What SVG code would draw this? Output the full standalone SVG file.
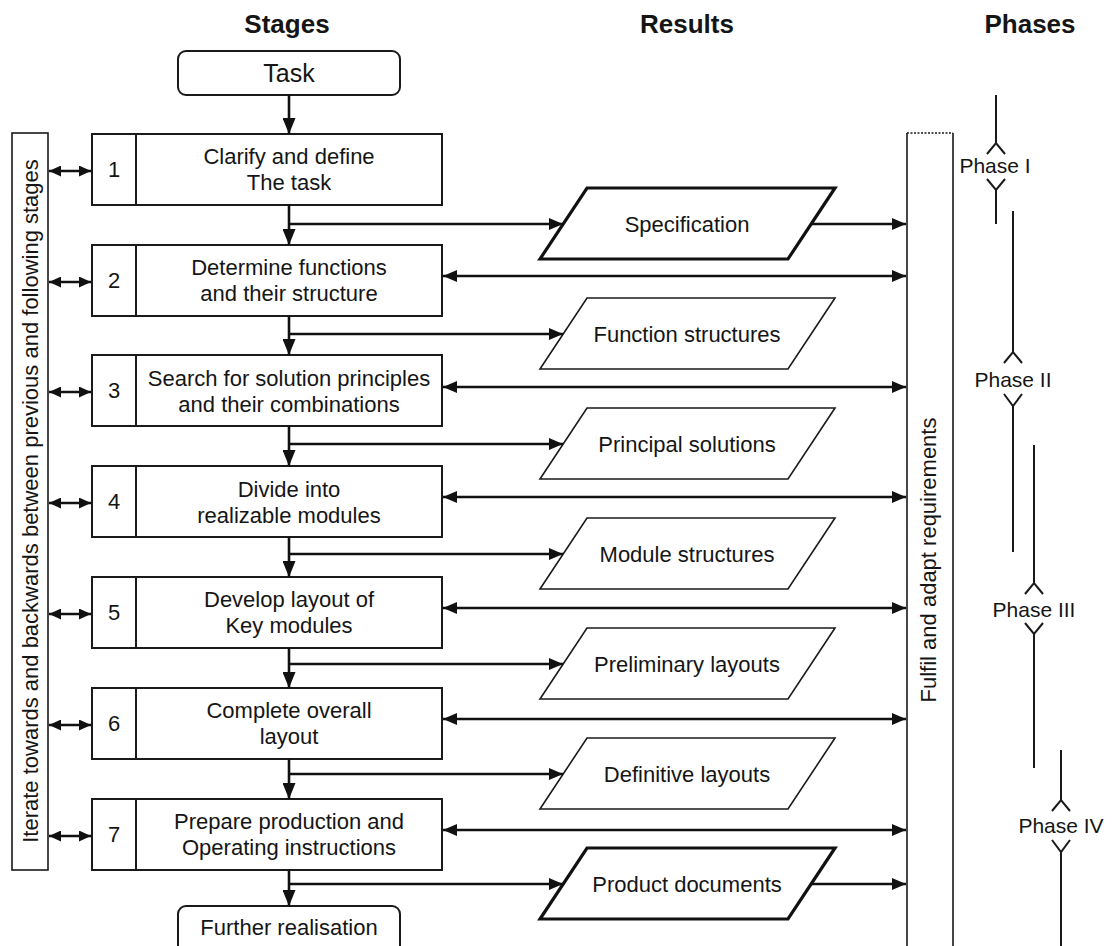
<svg xmlns="http://www.w3.org/2000/svg" width="1116" height="946" viewBox="0 0 1116 946">
<style>
text{font-family:"Liberation Sans",Arial,sans-serif;fill:#151515}
.hd{font-size:26px;font-weight:bold;text-anchor:middle}
.st{font-size:22px;text-anchor:middle}
.ph{font-size:21px;text-anchor:middle}
.box{fill:#fff;stroke:#1a1a1a;stroke-width:2}
.pthin{fill:#fff;stroke:#1a1a1a;stroke-width:1.6}
.pthick{fill:#fff;stroke:#111;stroke-width:3.2}
.ln{fill:none;stroke:#111;stroke-width:2.6}
.pl{fill:none;stroke:#1a1a1a;stroke-width:2}
</style>
<defs>
<marker id="ah" viewBox="0 0 14 12" refX="14" refY="6" markerWidth="14" markerHeight="12" markerUnits="userSpaceOnUse" orient="auto-start-reverse"><path d="M0,0 L14,6 L0,12 z" fill="#111"/></marker>
<marker id="as" viewBox="0 0 12 11" refX="12" refY="5.5" markerWidth="12" markerHeight="11" markerUnits="userSpaceOnUse" orient="auto-start-reverse"><path d="M0,0 L12,5.5 L0,11 z" fill="#111"/></marker>
<marker id="av" viewBox="0 0 16 13" refX="16" refY="6.5" markerWidth="16" markerHeight="13" markerUnits="userSpaceOnUse" orient="auto"><path d="M0,0 L16,6.5 L0,13 z" fill="#111"/></marker>
</defs>
<rect width="1116" height="946" fill="#fff"/>

<g id="headers">
<text class="hd" x="287" y="33">Stages</text>
<text class="hd" x="687" y="33">Results</text>
<text class="hd" x="1030" y="33">Phases</text>
</g>

<g id="task"><rect class="box" x="178" y="51" width="222" height="44" rx="8"/><text x="289" y="82" style="font-size:25px;text-anchor:middle">Task</text></g>
<g id="further"><rect class="box" x="178" y="906" width="222" height="50" rx="8"/><text class="st" x="289" y="935">Further realisation</text></g>

<g id="iterate"><rect x="12" y="133" width="36" height="737" fill="#fff" stroke="#1a1a1a" stroke-width="1.6"/><text class="st" transform="translate(38,501) rotate(-90)" x="0" y="0">Iterate towards and backwards between previous and following stages</text></g>

<g id="requirements"><path d="M907,133 V950 M953,133 V950" fill="none" stroke="#1a1a1a" stroke-width="1.6"/><path d="M907,133 H953" stroke="#1a1a1a" stroke-width="1.6" stroke-dasharray="2,1.5"/><text class="st" transform="translate(936,560) rotate(-90)" x="0" y="0">Fulfil and adapt requirements</text></g>

<g id="stage1"><rect class="box" x="92" y="134" width="350" height="71"/><line class="pl" x1="136" y1="134" x2="136" y2="205"/><text class="st" x="114" y="177">1</text><text class="st" x="289" y="164">Clarify and define</text><text class="st" x="289" y="190">The task</text></g>
<g id="stage2"><rect class="box" x="92" y="245" width="350" height="71"/><line class="pl" x1="136" y1="245" x2="136" y2="316"/><text class="st" x="114" y="288">2</text><text class="st" x="289" y="275">Determine functions</text><text class="st" x="289" y="301">and their structure</text></g>
<g id="stage3"><rect class="box" x="92" y="355" width="350" height="71"/><line class="pl" x1="136" y1="355" x2="136" y2="426"/><text class="st" x="114" y="398">3</text><text class="st" x="289" y="386">Search for solution principles</text><text class="st" x="289" y="412">and their combinations</text></g>
<g id="stage4"><rect class="box" x="92" y="466" width="350" height="71"/><line class="pl" x1="136" y1="466" x2="136" y2="537"/><text class="st" x="114" y="509">4</text><text class="st" x="289" y="497">Divide into</text><text class="st" x="289" y="523">realizable modules</text></g>
<g id="stage5"><rect class="box" x="92" y="577" width="350" height="71"/><line class="pl" x1="136" y1="577" x2="136" y2="648"/><text class="st" x="114" y="620">5</text><text class="st" x="289" y="607">Develop layout of</text><text class="st" x="289" y="633">Key modules</text></g>
<g id="stage6"><rect class="box" x="92" y="688" width="350" height="71"/><line class="pl" x1="136" y1="688" x2="136" y2="759"/><text class="st" x="114" y="731">6</text><text class="st" x="289" y="718">Complete overall</text><text class="st" x="289" y="744">layout</text></g>
<g id="stage7"><rect class="box" x="92" y="799" width="350" height="71"/><line class="pl" x1="136" y1="799" x2="136" y2="870"/><text class="st" x="114" y="842">7</text><text class="st" x="289" y="829">Prepare production and</text><text class="st" x="289" y="855">Operating instructions</text></g>

<g id="result1"><polygon class="pthick" points="587,188 835,188 788,259 540,259"/><text class="st" x="687" y="232">Specification</text></g>
<g id="result2"><polygon class="pthin" points="587,298 835,298 788,369 540,369"/><text class="st" x="687" y="342">Function structures</text></g>
<g id="result3"><polygon class="pthin" points="587,408 835,408 788,479 540,479"/><text class="st" x="687" y="452">Principal solutions</text></g>
<g id="result4"><polygon class="pthin" points="587,518 835,518 788,589 540,589"/><text class="st" x="687" y="562">Module structures</text></g>
<g id="result5"><polygon class="pthin" points="587,628 835,628 788,699 540,699"/><text class="st" x="687" y="672">Preliminary layouts</text></g>
<g id="result6"><polygon class="pthin" points="587,738 835,738 788,809 540,809"/><text class="st" x="687" y="782">Definitive layouts</text></g>
<g id="result7"><polygon class="pthick" points="587,848 835,848 788,919 540,919"/><text class="st" x="687" y="892">Product documents</text></g>

<g id="phases">
<path class="pl" d="M996,95 V143 M996,190 V224 M1013,211 V352 M1013,406 V552 M1034,445 V583 M1034,634 V768 M1061,750 V800 M1061,852 V950"/>
<path class="pl" d="M987,154 L996,143 L1005,154 M987,179 L996,190 L1005,179"/>
<path class="pl" d="M1004,363 L1013,352 L1022,363 M1004,394 L1013,406 L1022,394"/>
<path class="pl" d="M1025,594 L1034,583 L1043,594 M1025,623 L1034,634 L1043,623"/>
<path class="pl" d="M1052,811 L1061,800 L1070,811 M1052,840 L1061,852 L1070,840"/>
<text class="ph" x="995" y="173">Phase I</text>
<text class="ph" x="1013" y="387">Phase II</text>
<text class="ph" x="1034" y="617">Phase III</text>
<text class="ph" x="1061" y="833">Phase IV</text>
</g>

<g id="connectors">
<line class="ln" x1="289" y1="95" x2="289" y2="134" marker-end="url(#av)"/>
<line class="ln" x1="289" y1="205" x2="289" y2="245" marker-end="url(#av)"/>
<line class="ln" x1="289" y1="316" x2="289" y2="355" marker-end="url(#av)"/>
<line class="ln" x1="289" y1="426" x2="289" y2="466" marker-end="url(#av)"/>
<line class="ln" x1="289" y1="537" x2="289" y2="577" marker-end="url(#av)"/>
<line class="ln" x1="289" y1="648" x2="289" y2="688" marker-end="url(#av)"/>
<line class="ln" x1="289" y1="759" x2="289" y2="799" marker-end="url(#av)"/>
<line class="ln" x1="289" y1="870" x2="289" y2="906" marker-end="url(#av)"/>

<line class="ln" x1="289" y1="224" x2="563" y2="224" marker-end="url(#ah)"/>
<line class="ln" x1="289" y1="334" x2="563" y2="334" marker-end="url(#ah)"/>
<line class="ln" x1="289" y1="444" x2="563" y2="444" marker-end="url(#ah)"/>
<line class="ln" x1="289" y1="554" x2="563" y2="554" marker-end="url(#ah)"/>
<line class="ln" x1="289" y1="664" x2="563" y2="664" marker-end="url(#ah)"/>
<line class="ln" x1="289" y1="774" x2="563" y2="774" marker-end="url(#ah)"/>
<line class="ln" x1="289" y1="884" x2="563" y2="884" marker-end="url(#ah)"/>

<line class="ln" x1="812" y1="224" x2="906" y2="224" marker-end="url(#ah)"/>
<line class="ln" x1="812" y1="884" x2="906" y2="884" marker-end="url(#ah)"/>

<line class="ln" x1="443" y1="276" x2="906" y2="276" marker-start="url(#ah)" marker-end="url(#ah)"/>
<line class="ln" x1="443" y1="387" x2="906" y2="387" marker-start="url(#ah)" marker-end="url(#ah)"/>
<line class="ln" x1="443" y1="497" x2="906" y2="497" marker-start="url(#ah)" marker-end="url(#ah)"/>
<line class="ln" x1="443" y1="608" x2="906" y2="608" marker-start="url(#ah)" marker-end="url(#ah)"/>
<line class="ln" x1="443" y1="719" x2="906" y2="719" marker-start="url(#ah)" marker-end="url(#ah)"/>
<line class="ln" x1="443" y1="830" x2="906" y2="830" marker-start="url(#ah)" marker-end="url(#ah)"/>

<line class="ln" x1="49" y1="171" x2="91" y2="171" marker-start="url(#as)" marker-end="url(#as)"/>
<line class="ln" x1="49" y1="282" x2="91" y2="282" marker-start="url(#as)" marker-end="url(#as)"/>
<line class="ln" x1="49" y1="392" x2="91" y2="392" marker-start="url(#as)" marker-end="url(#as)"/>
<line class="ln" x1="49" y1="503" x2="91" y2="503" marker-start="url(#as)" marker-end="url(#as)"/>
<line class="ln" x1="49" y1="614" x2="91" y2="614" marker-start="url(#as)" marker-end="url(#as)"/>
<line class="ln" x1="49" y1="725" x2="91" y2="725" marker-start="url(#as)" marker-end="url(#as)"/>
<line class="ln" x1="49" y1="836" x2="91" y2="836" marker-start="url(#as)" marker-end="url(#as)"/>
</g>
</svg>
